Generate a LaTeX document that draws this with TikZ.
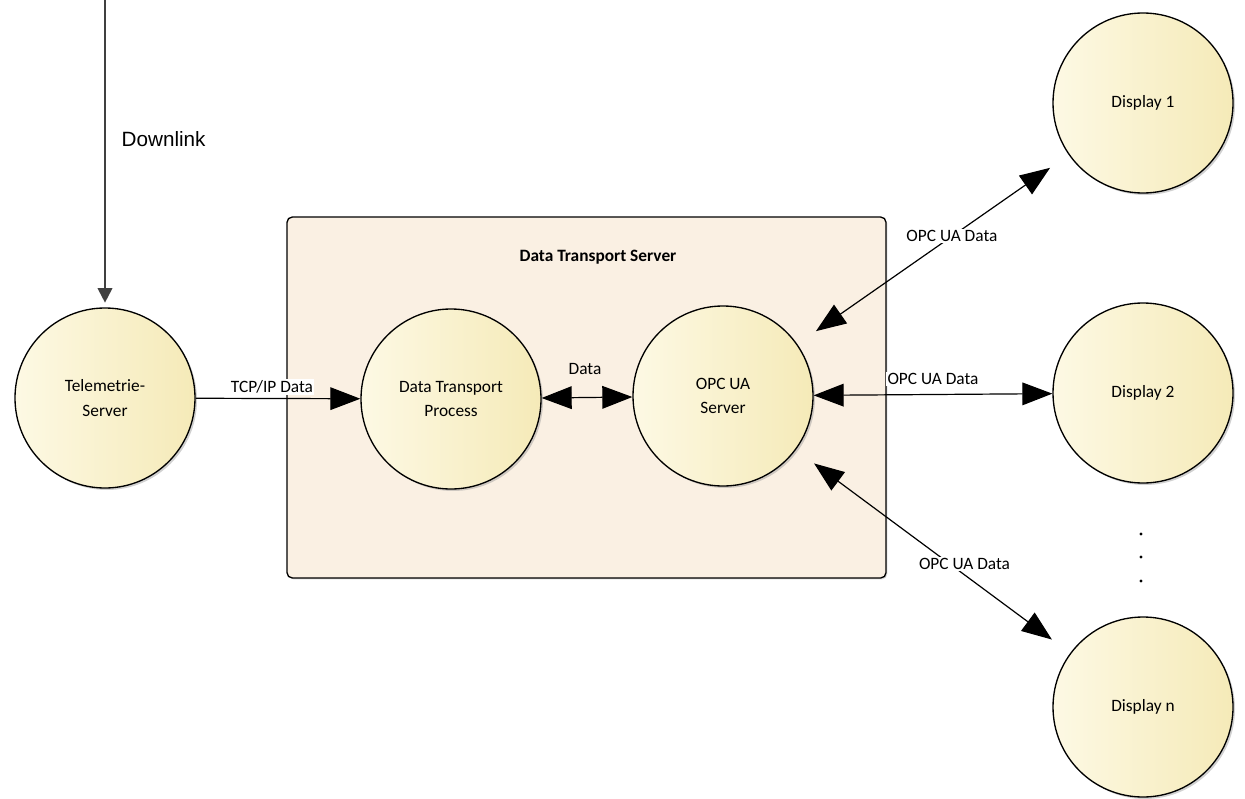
\documentclass[tikz,border=0pt]{standalone}
\usepackage{fontspec}
\setmainfont{Carlito}
\newfontfamily\arialfont{Liberation Sans}
\usepackage{tikz}
\usetikzlibrary{arrows.meta,calc,shadows}
\definecolor{boxfill}{RGB}{250,240,227}
\definecolor{circL}{RGB}{253,249,228}
\definecolor{circR}{RGB}{245,234,184}
\definecolor{linkgray}{RGB}{64,64,64}

\begin{document}
\begin{tikzpicture}[x=0.75pt, y=-0.75pt, >={Triangle[length=22.5pt, width=17pt]},
		font=\fontsize{13}{15}\selectfont,
		proc/.style={circle, draw, line width=1pt, minimum size=135pt, inner sep=0pt, align=center,
			font=\fontsize{13}{18.5}\selectfont, left color=circL, right color=circR,
			drop shadow={shadow xshift=1.5pt, shadow yshift=-1.5pt, fill=black!40, opacity=0.45}},
		flow/.style={line width=0.9pt},
		lbl/.style={fill=white, inner sep=1pt},
		gap/.style={shorten <=17pt, shorten >=17pt}]
		\useasboundingbox (0,0) rectangle (1245,799);
		% server frame
		\draw[line width=1pt, fill=boxfill, rounded corners=4,
			drop shadow={shadow xshift=1pt, shadow yshift=-1pt, fill=black!40, opacity=0.4}] (287,217) rectangle (886,578);
		\node[font=\fontsize{13}{15}\selectfont\bfseries] (dts) at (598,257) {Data Transport Server};
		% processes
		\node[proc] (tele) at (105,398) {Telemetrie-\\Server};
		\node[proc] (dtp) at (451,399) {Data Transport\\Process};
		\node[proc] (opc) at (723,396) {OPC UA\\Server};
		\node[proc] (disp1) at (1143,103) {Display 1};
		\node[proc] (disp2) at (1143,393) {Display 2};
		\node[proc] (dispn) at (1143,707) {Display n};
		% downlink
		\coordinate (DL) at (105,0);
		\draw[linkgray, line width=1.5pt, -{Triangle[length=11pt, width=11pt]}, shorten >=3.5pt] (DL) -- (tele);
		\node[font=\arialfont\fontsize{15.5}{18}\selectfont, anchor=west] (ldown) at (117,139) {Downlink};
		% flows
		\draw[flow, ->] (tele) -- (dtp);
		\draw[flow, <->] (dtp) -- (opc);
		\draw[flow, <->] (opc) -- (disp2);
		\draw[flow, <->, gap] (opc) -- (disp1);
		\draw[flow, <->, gap] (opc) -- (dispn);
		\node[lbl] (ltcp) at (272,387) {TCP/IP Data};
		\node (ldata) at (585,369) {Data};
		\node[lbl] (lopc2) at (933,379) {OPC UA Data};
		\node[lbl] (lopc1) at ($(opc)!0.545!(disp1)$) {OPC UA Data};
		\node[lbl, yshift=8pt] (lopcn) at ($(opc)!0.575!(dispn)$) {OPC UA Data};
		% more displays
		\foreach \y in {534,557,581}
			\fill (1141,\y) circle (1.2pt);
	\end{tikzpicture}
\end{document}
